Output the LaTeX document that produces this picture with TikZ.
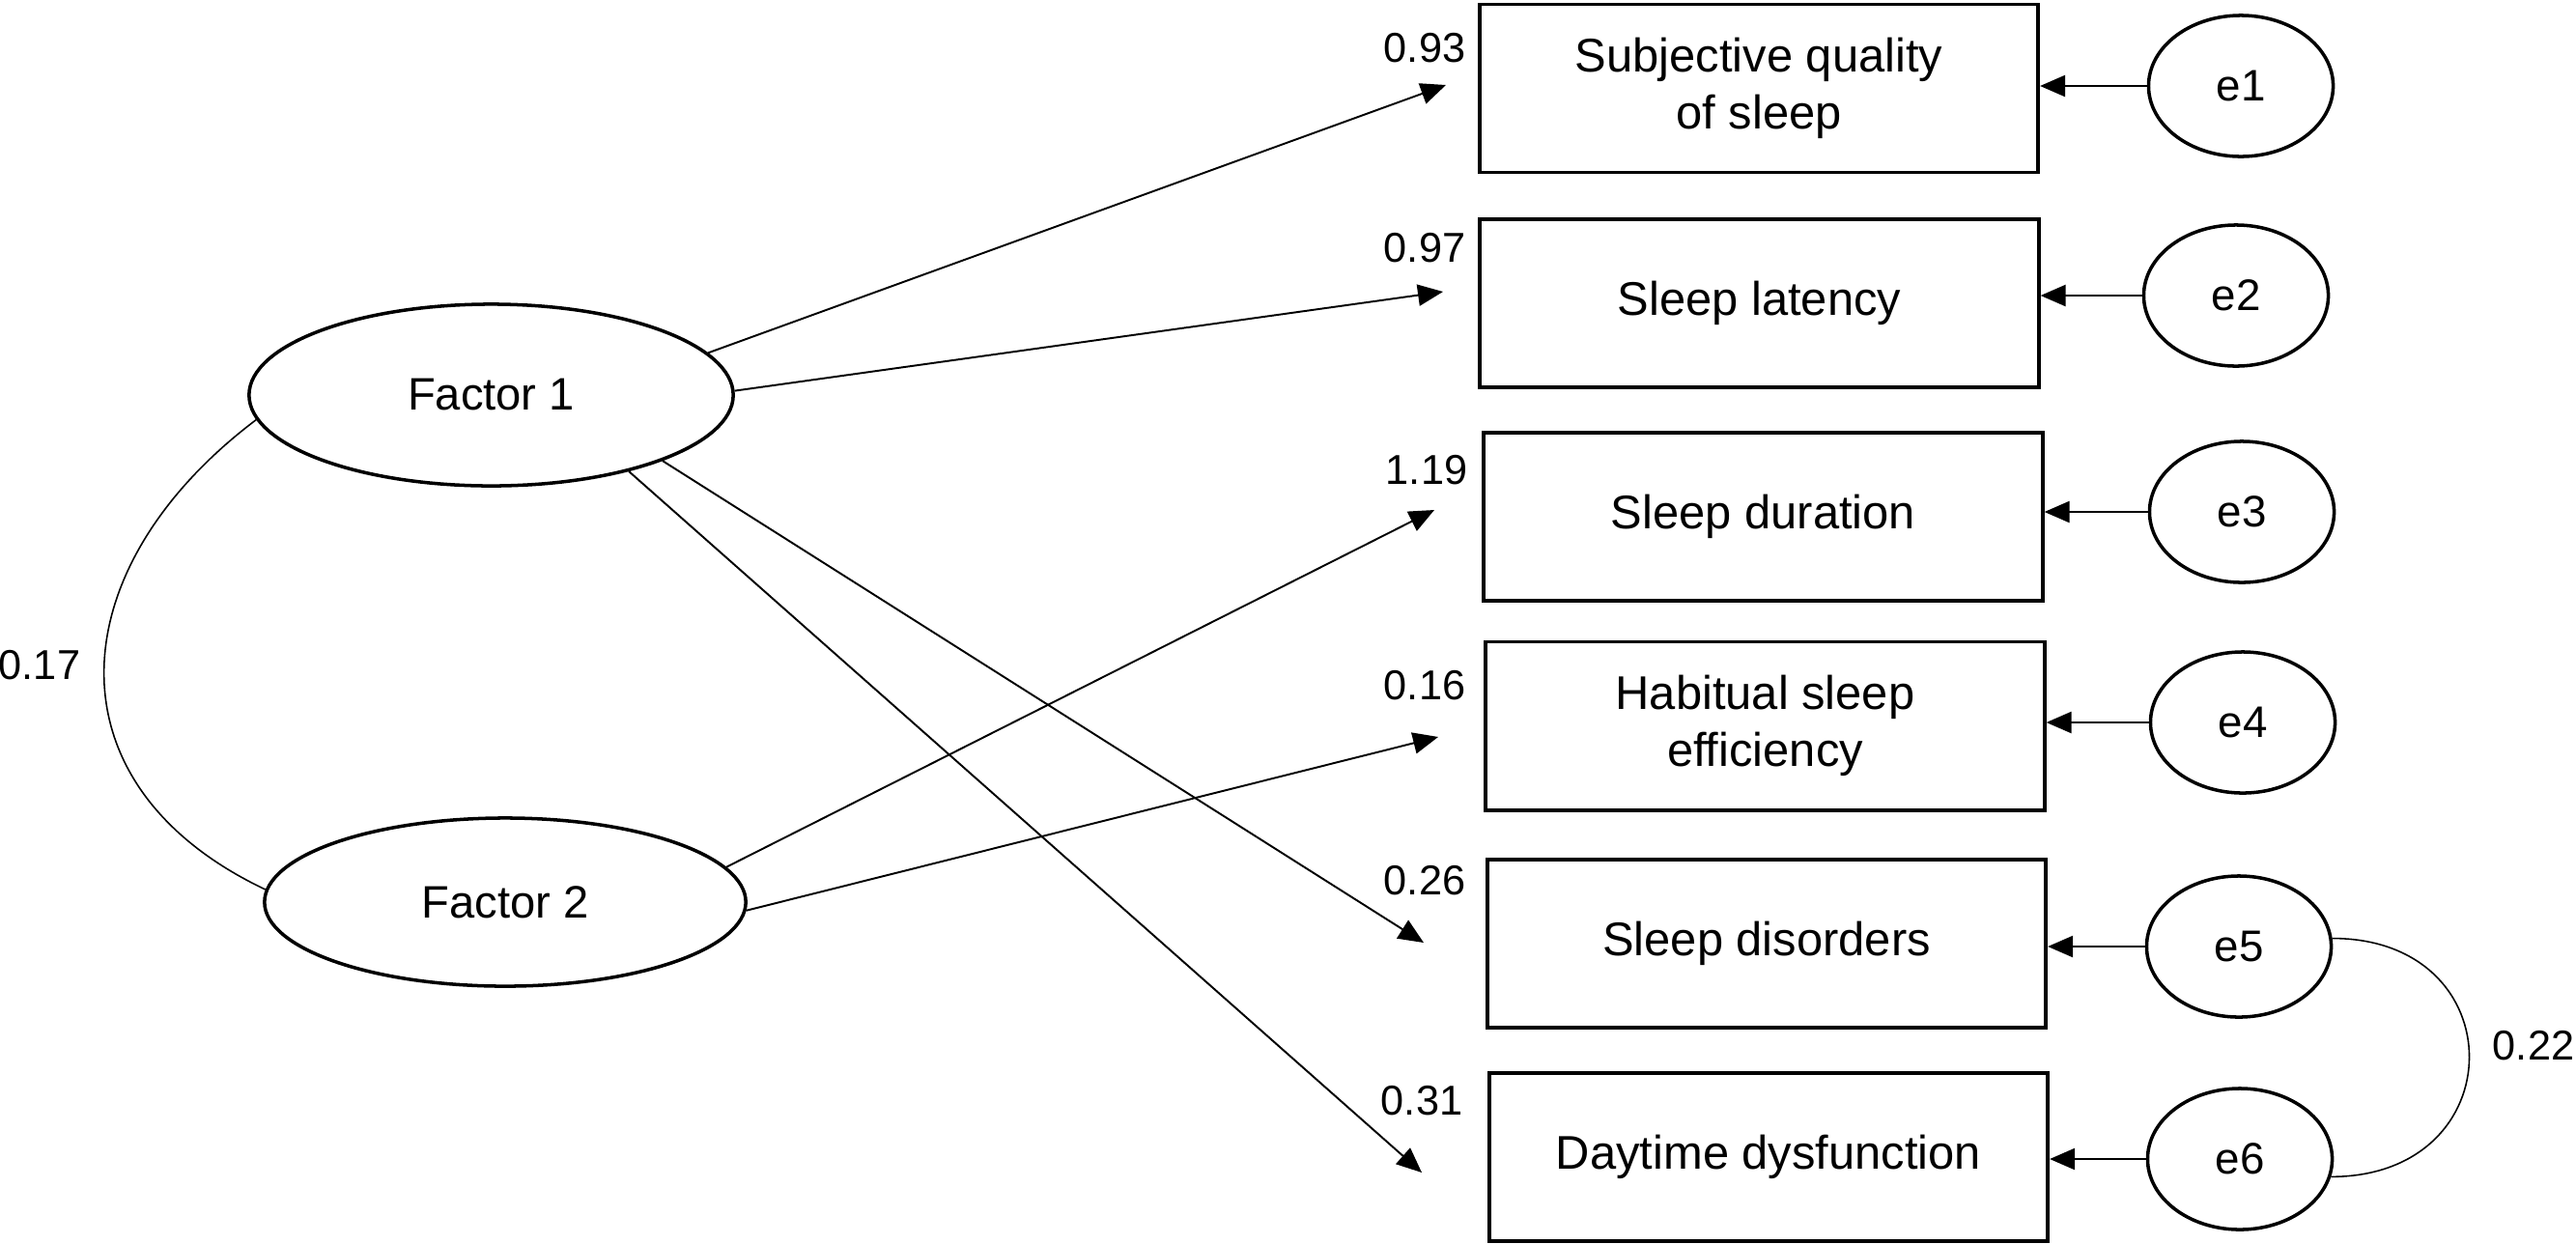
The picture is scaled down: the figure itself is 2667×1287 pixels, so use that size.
\documentclass[tikz,border=0pt]{standalone}
\usepackage{fontspec}
\setmainfont{Liberation Sans}
\usetikzlibrary{arrows.meta,shapes.geometric}
\begin{document}
\begin{tikzpicture}[x=0.01cm,y=-0.01cm,
  obs/.style={draw, line width=1.1pt, rectangle, minimum width=5.78cm, minimum height=1.74cm, inner sep=0pt, align=center, font=\fontsize{13.9pt}{16.8pt}\selectfont},
  lat/.style={draw, line width=1pt, ellipse, inner sep=0pt, font=\fontsize{13.4pt}{16pt}\selectfont},
  err/.style={draw, line width=1pt, ellipse, minimum width=1.91cm, minimum height=1.46cm, inner sep=0pt, font=\fontsize{13pt}{16pt}\selectfont},
  coef/.style={inner sep=0pt, font=\fontsize{12.3pt}{14pt}\selectfont},
  arr/.style={line width=0.55pt, -{Triangle[length=7.4pt,width=6.3pt]}},
  cov/.style={line width=0.45pt}
]
\useasboundingbox (0,0) rectangle (2667,1287);
\fill[white] (0,0) rectangle (2667,1287);

% observed variables
\node[obs] (b1) at (1821,91.5) {Subjective quality\\of sleep};
\node[obs] (b2) at (1821.5,314) {Sleep latency};
\node[obs] (b3) at (1825.5,535) {Sleep duration};
\node[obs] (b4) at (1827.5,751.5) {Habitual sleep\\efficiency};
\node[obs] (b5) at (1829,977) {Sleep disorders};
\node[obs] (b6) at (1831,1198) {Daytime dysfunction};

% error terms
\node[err] (e1) at (2320,89) {e1};
\node[err] (e2) at (2315,306) {e2};
\node[err] (e3) at (2321,530) {e3};
\node[err] (e4) at (2322,748) {e4};
\node[err] (e5) at (2318,980) {e5};
\node[err] (e6) at (2319,1200) {e6};

% latent factors
\node[lat, minimum width=5.01cm, minimum height=1.88cm] (F1) at (508.5,409) {Factor 1};
\node[lat, minimum width=4.98cm, minimum height=1.74cm] (F2) at (523,934) {Factor 2};

% arrow tip points
\coordinate (t1) at (1497,88);
\coordinate (t2) at (1494,302);
\coordinate (t3) at (1485,528);
\coordinate (t4) at (1489,763);
\coordinate (t5) at (1474,976);
\coordinate (t6) at (1472,1214);

% loadings
\draw[arr] (F1.11) -- (t1);
\draw[arr] (F1.1) -- (t2);
\draw[arr] (F2.9) -- (t3);
\draw[arr] (F2.358) -- (t4);
\draw[arr] (F1.339) -- (t5);
\draw[arr] (F1.331) -- (t6);

% loading labels
\node[coef] (l1) at (1475,50) {0.93};
\node[coef] (l2) at (1475,257) {0.97};
\node[coef] (l3) at (1477,487) {1.19};
\node[coef] (l4) at (1475,710) {0.16};
\node[coef] (l5) at (1475,912) {0.26};
\node[coef] (l6) at (1472,1140) {0.31};

% error arrows
\draw[arr] (e1.west) -- (e1.west -| b1.east);
\draw[arr] (e2.west) -- (e2.west -| b2.east);
\draw[arr] (e3.west) -- (e3.west -| b3.east);
\draw[arr] (e4.west) -- (e4.west -| b4.east);
\draw[arr] (e5.west) -- (e5.west -| b5.east);
\draw[arr] (e6.west) -- (e6.west -| b6.east);

% covariances
\draw[cov] (F1.186) .. controls +(-203,153) and +(-230,-109) .. (F2.177);
\node[coef] (c17) at (41,689) {0.17};
\draw[cov] (e5.5) .. controls +(190,0) and +(190,0) .. (e6.349);
\node[coef] (c22) at (2623,1083) {0.22};
\end{tikzpicture}
\end{document}
